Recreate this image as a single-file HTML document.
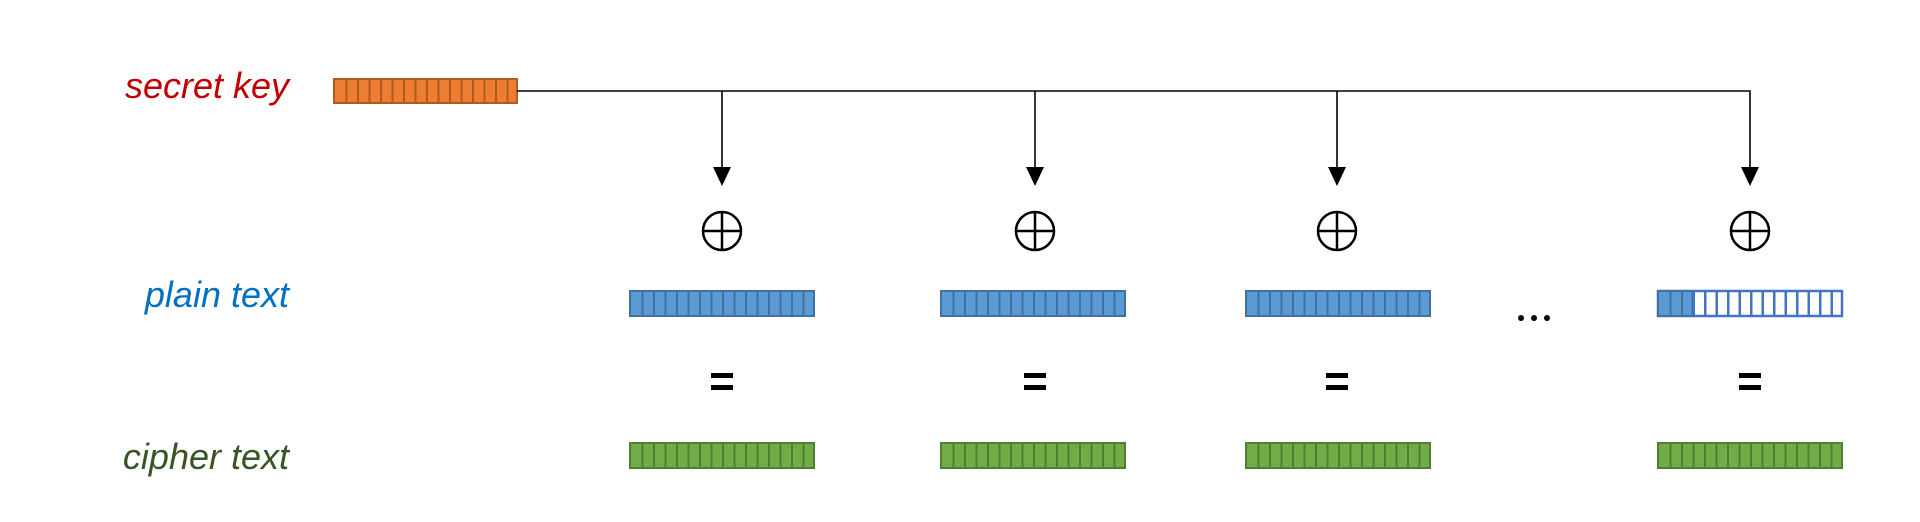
<!DOCTYPE html>
<html><head><meta charset="utf-8"><style>
html,body{margin:0;padding:0;background:#fff;}
svg{display:block;}
text{font-family:"Liberation Sans",sans-serif;font-style:italic;font-size:36px;}
</style></head><body>
<svg width="1920" height="522" viewBox="0 0 1920 522" xmlns="http://www.w3.org/2000/svg">
<defs>
<marker id="ah" markerWidth="16" markerHeight="20" refX="8" refY="18" orient="auto" markerUnits="userSpaceOnUse"></marker>
</defs>
<text x="289" y="98" text-anchor="end" fill="#C00000">secret key</text>
<text x="289" y="307" text-anchor="end" fill="#0070C0">plain text</text>
<text x="289" y="469" text-anchor="end" fill="#375623">cipher text</text>

<!-- key box -->
<rect x="334" y="79" width="183" height="24" fill="#ED7D31" stroke="#AE5A21" stroke-width="2"/>
<line x1="345.5" y1="91" x2="516" y2="91" stroke="#AE5A21" stroke-width="24" stroke-dasharray="2 9.5"/>

<!-- connectors -->
<g stroke="#000" stroke-width="1.6" fill="none">
<polyline points="517,91 1750,91 1750,168"/>
<line x1="722" y1="91" x2="722" y2="168"/>
<line x1="1035" y1="91" x2="1035" y2="168"/>
<line x1="1337" y1="91" x2="1337" y2="168"/>
</g>
<g fill="#000">
<polygon points="713,167 731,167 722,186"/>
<polygon points="1026,167 1044,167 1035,186"/>
<polygon points="1328,167 1346,167 1337,186"/>
<polygon points="1741,167 1759,167 1750,186"/>
</g>

<!-- xor -->
<g stroke="#000" stroke-width="2.5" fill="none">
<ellipse cx="722" cy="231" rx="19" ry="19"/><line x1="703" y1="231" x2="741" y2="231"/><line x1="722" y1="212" x2="722" y2="250"/>
<ellipse cx="1035" cy="231" rx="19" ry="19"/><line x1="1016" y1="231" x2="1054" y2="231"/><line x1="1035" y1="212" x2="1035" y2="250"/>
<ellipse cx="1337" cy="231" rx="19" ry="19"/><line x1="1318" y1="231" x2="1356" y2="231"/><line x1="1337" y1="212" x2="1337" y2="250"/>
<ellipse cx="1750" cy="231" rx="19" ry="19"/><line x1="1731" y1="231" x2="1769" y2="231"/><line x1="1750" y1="212" x2="1750" y2="250"/>
</g>

<!-- plain boxes -->
<g>
<rect x="630" y="291" width="184" height="25" fill="#5B9BD5" stroke="#41719C" stroke-width="2"/>
<line x1="641.5" y1="303.5" x2="813" y2="303.5" stroke="#41719C" stroke-width="25" stroke-dasharray="2 9.5"/>
<rect x="941" y="291" width="184" height="25" fill="#5B9BD5" stroke="#41719C" stroke-width="2"/>
<line x1="952.5" y1="303.5" x2="1124" y2="303.5" stroke="#41719C" stroke-width="25" stroke-dasharray="2 9.5"/>
<rect x="1246" y="291" width="184" height="25" fill="#5B9BD5" stroke="#41719C" stroke-width="2"/>
<line x1="1257.5" y1="303.5" x2="1429" y2="303.5" stroke="#41719C" stroke-width="25" stroke-dasharray="2 9.5"/>
<rect x="1658" y="291" width="184" height="25" fill="#fff" stroke="#4472C4" stroke-width="2.5"/>
<rect x="1658" y="291" width="34.5" height="25" fill="#5B9BD5" stroke="#41719C" stroke-width="2"/>
<line x1="1669.5" y1="303.5" x2="1692" y2="303.5" stroke="#41719C" stroke-width="25" stroke-dasharray="2 9.5"/>
<line x1="1692.5" y1="303.5" x2="1841" y2="303.5" stroke="#4472C4" stroke-width="25" stroke-dasharray="2.5 9"/>
</g>

<!-- dots -->
<g fill="#000"><circle cx="1521" cy="318" r="3"/><circle cx="1534" cy="318" r="3"/><circle cx="1547" cy="318" r="3"/></g>

<!-- equals -->
<g fill="#000">
<rect x="711" y="373" width="22" height="5"/><rect x="711" y="385" width="22" height="5"/>
<rect x="1024" y="373" width="22" height="5"/><rect x="1024" y="385" width="22" height="5"/>
<rect x="1326" y="373" width="22" height="5"/><rect x="1326" y="385" width="22" height="5"/>
<rect x="1739" y="373" width="22" height="5"/><rect x="1739" y="385" width="22" height="5"/>
</g>

<!-- cipher boxes -->
<g>
<rect x="630" y="443" width="184" height="25" fill="#70AD47" stroke="#507E32" stroke-width="2"/>
<line x1="641.5" y1="455.5" x2="813" y2="455.5" stroke="#507E32" stroke-width="25" stroke-dasharray="2 9.5"/>
<rect x="941" y="443" width="184" height="25" fill="#70AD47" stroke="#507E32" stroke-width="2"/>
<line x1="952.5" y1="455.5" x2="1124" y2="455.5" stroke="#507E32" stroke-width="25" stroke-dasharray="2 9.5"/>
<rect x="1246" y="443" width="184" height="25" fill="#70AD47" stroke="#507E32" stroke-width="2"/>
<line x1="1257.5" y1="455.5" x2="1429" y2="455.5" stroke="#507E32" stroke-width="25" stroke-dasharray="2 9.5"/>
<rect x="1658" y="443" width="184" height="25" fill="#70AD47" stroke="#507E32" stroke-width="2"/>
<line x1="1669.5" y1="455.5" x2="1841" y2="455.5" stroke="#507E32" stroke-width="25" stroke-dasharray="2 9.5"/>
</g>
</svg>
</body></html>
